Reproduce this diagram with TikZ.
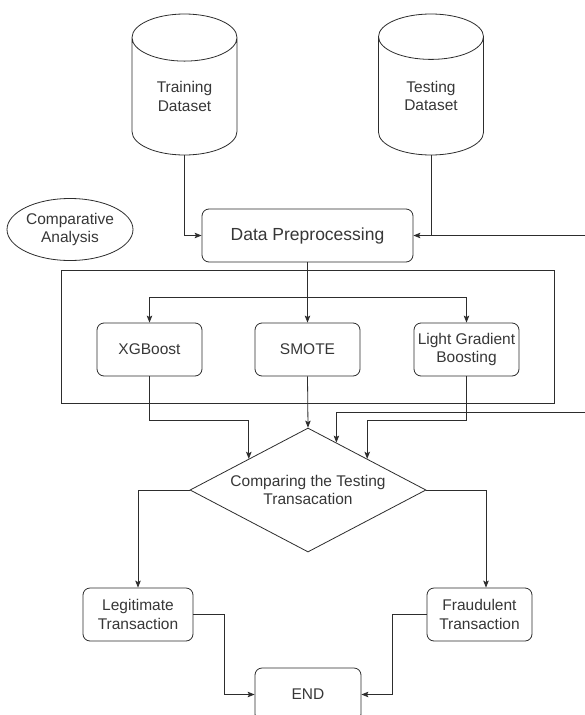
\documentclass[tikz,border=0pt]{standalone}
\usepackage{fontspec}
\setmainfont{Liberation Sans}
\usepackage{xcolor}
\usepackage{tikz}
\usetikzlibrary{shapes}
\usetikzlibrary{positioning}
\usetikzlibrary{arrows.meta}
\usetikzlibrary{calc}
\definecolor{linegray}{RGB}{45,45,45}
\definecolor{textgray}{RGB}{55,55,55}

\begin{document}
\begin{tikzpicture}[
	x=1pt, y=1pt,
	font=\fontsize{15.5pt}{18.5pt}\selectfont,
	line width=0.8pt
]
\tikzset{
    box/.style = {rectangle, rounded corners=7pt, draw=linegray, fill=white, text=textgray, align=center, minimum width=105pt, minimum height=53pt, inner sep=1pt},
    dbnode/.style = {cylinder, shape border rotate=90, aspect=0.85, draw=linegray, fill=white, text=textgray, align=center, minimum width=105pt, minimum height=141pt, inner sep=0pt},
    decision/.style = {diamond, shape aspect=1.9, draw=linegray, fill=white, text=textgray, align=center, minimum width=236pt, minimum height=124pt, inner sep=0pt},
    note/.style = {ellipse, draw=linegray, fill=white, text=textgray, align=center, minimum width=126pt, minimum height=62pt, inner sep=0pt},
    groupbox/.style = {rectangle, draw=linegray, minimum width=493pt, minimum height=133pt},
    link/.style = {draw=linegray, -{Stealth[length=7pt,width=5.5pt,inset=1.5pt]}},
}
\fill[white] (0,0) rectangle (584,-715);
\useasboundingbox (0,0) rectangle (584,-715);

\node (train) [dbnode, anchor=shape center] at (184.5,-84.5) {Training\\Dataset};
\node (test) [dbnode, anchor=shape center] at (431,-84.5) {Testing\\Dataset};
\node (compare) [note] at (70,-229.5) {Comparative\\Analysis};
\node (prep) [box, minimum width=211pt, font=\fontsize{17.5pt}{20pt}\selectfont] at (307.5,-235.5) {Data Preprocessing};

\node (models) [groupbox] at (307.5,-336.5) {};
\node (xgb) [box] at (149.5,-349.5) {XGBoost};
\node (smote) [box] at (307.5,-349.5) {SMOTE};
\node (lgb) [box] at (466.5,-349.5) {Light Gradient\\Boosting};

\node (cmp) [decision] at (308,-490) {Comparing the Testing\\Transacation};
\node (legit) [box, minimum width=110pt] at (138,-614.5) {Legitimate\\Transaction};
\node (fraud) [box] at (479.5,-614.5) {Fraudulent\\Transaction};
\node (end) [box, minimum width=106pt] at (308,-694.5) {END};

\coordinate (split) at (307.5,-297);
\coordinate (cmpL) at ($(cmp.north)!0.5!(cmp.west)$);
\coordinate (cmpR) at ($(cmp.north)!0.5!(cmp.east)$);
\coordinate (cmpT) at ($(cmp.north)!0.24!(cmp.east)$);
\coordinate (fraudin) at ([xshift=6.5pt]fraud.north);
\coordinate (outA) at (590,-235.5);
\coordinate (outB) at (590,-412);

\draw[link] (train.south) |- (prep.west);
\draw[link] (test.south) |- (prep.east);
\draw[linegray] (test.south |- prep.east) -- (outA);

\draw[link] (prep.south) -- (smote.north);
\draw[link] (split) -| (xgb.north);
\draw[link] (split) -| (lgb.north);

\draw[link] (xgb.south) -- ++(0,-44) -| (cmpL);
\draw[link] (smote.south) -- (cmp.north);
\draw[link] (lgb.south) -- ++(0,-44) -| (cmpR);
\draw[link] (outB) -| (cmpT);

\draw[link] (cmp.west) -| (legit.north);
\draw[link] (cmp.east) -| (fraudin);
\draw[link] (legit.east) -- ++(31,0) |- (end.west);
\draw[link] (fraud.west) -- ++(-34,0) |- (end.east);

\end{tikzpicture}
\end{document}
